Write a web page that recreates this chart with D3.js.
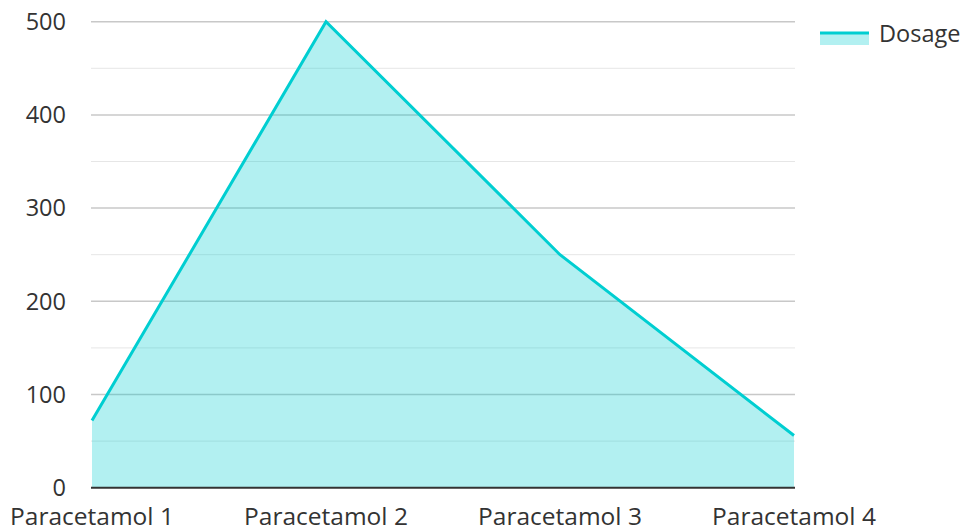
<!DOCTYPE html>
<html><head><meta charset="utf-8">
<script src="https://cdn.jsdelivr.net/npm/d3@7"></script>
<style>body{margin:0;background:#fff;}text{font-family:"Open Sans","Noto Sans",sans-serif;fill:#333;}</style>
</head><body><svg id="c" width="968" height="529"></svg>
<script>
const categories = ["Paracetamol 1","Paracetamol 2","Paracetamol 3","Paracetamol 4"];
const dosage = [72, 500, 250, 56];
const yTicks = [0,100,200,300,400,500];
const minorTicks = [50,150,250,350,450];
const seriesName = "Dosage";

(function(){
const svg = d3.select("#c");
const mLeft = 92, mRight = 794, mTop = 21.7, mBottom = 487.7;
const x = d3.scalePoint().domain(categories).range([mLeft, mRight]);
const y = d3.scaleLinear().domain([0,500]).range([mBottom, mTop]);
const color = "#00CED1";

const g = svg.append("g");
g.selectAll(".minor").data(minorTicks).enter().append("line")
  .attr("x1", mLeft-1).attr("x2", mRight+1).attr("y1", d=>y(d)).attr("y2", d=>y(d))
  .attr("stroke", "#e6e6e6").attr("stroke-width", 1);
g.selectAll(".major").data(yTicks.filter(d=>d>0)).enter().append("line")
  .attr("x1", mLeft-1).attr("x2", mRight+1).attr("y1", d=>y(d)).attr("y2", d=>y(d))
  .attr("stroke", "#c8c8c8").attr("stroke-width", 1.5);

const pts = categories.map((c,i)=>[x(c), y(dosage[i])]);
const area = d3.area().x(d=>d[0]).y0(y(0)).y1(d=>d[1]);
g.append("path").attr("d", area(pts)).attr("fill", color).attr("fill-opacity", 0.3);
const line = d3.line().x(d=>d[0]).y(d=>d[1]);
g.append("path").attr("d", line(pts)).attr("fill","none").attr("stroke", color).attr("stroke-width", 3);

g.append("line").attr("x1", mLeft-1).attr("x2", mRight+1).attr("y1", y(0)).attr("y2", y(0))
  .attr("stroke", "#333").attr("stroke-width", 2);

g.selectAll(".yl").data(yTicks).enter().append("text")
  .attr("x", 66).attr("y", d=>y(d)).attr("dy","0.35em").attr("text-anchor","end")
  .attr("font-size", 23.5).text(d=>d);
g.selectAll(".xl").data(categories).enter().append("text")
  .attr("x", d=>x(d)).attr("y", 525).attr("text-anchor","middle")
  .attr("font-size", 24.5).text(d=>d);

const lg = svg.append("g");
lg.append("rect").attr("x", 820).attr("y", 33).attr("width", 49).attr("height", 12)
  .attr("fill", color).attr("fill-opacity", 0.3);
lg.append("line").attr("x1", 820).attr("x2", 869).attr("y1", 33).attr("y2", 33)
  .attr("stroke", color).attr("stroke-width", 3);
lg.append("text").attr("x", 879).attr("y", 42).attr("font-size", 23.5).text(seriesName);
})();
</script></body></html>
